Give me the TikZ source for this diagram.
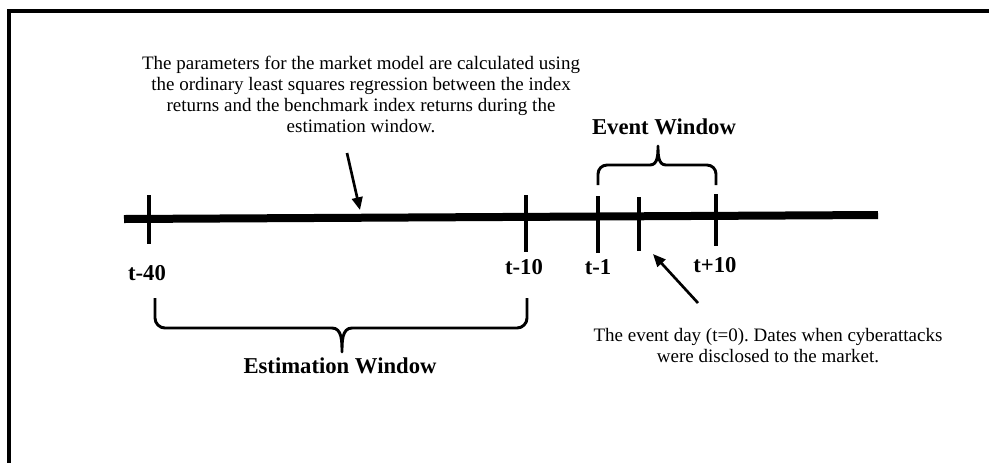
\documentclass[tikz,border=0pt]{standalone}
\usepackage{fontspec}
\setmainfont{Liberation Serif}
\usetikzlibrary{arrows.meta}
\frenchspacing
\begin{document}
\begin{tikzpicture}[x=0.75pt,y=-0.75pt,
  frame/.style={line width=3pt},
  axis/.style={line width=6pt},
  tickline/.style={line width=3pt},
  brace/.style={line width=2.2pt, line join=round},
  pointer/.style={line width=2pt,-{Triangle[length=9.5pt,width=8pt]}},
  note/.style={font=\fontsize{14.25}{15.75}\selectfont, align=center, inner sep=0pt, anchor=north},
  daylabel/.style={font=\fontsize{17}{20}\selectfont\bfseries, inner sep=0pt, anchor=base}]
\useasboundingbox (0,0) rectangle (989,462);

% open frame: top and left edges
\draw[frame] (992,11) -- (9,11) -- (9,465);

% time axis
\coordinate (tlL) at (124,219);
\coordinate (tlR) at (878,215);
\draw[axis] (tlL) -- (tlR);

% tick marks
\coordinate (k40a) at (149,195);  \coordinate (k40b) at (149,244);
\coordinate (k10a) at (526,195);  \coordinate (k10b) at (526,252);
\coordinate (k1a)  at (598,196);  \coordinate (k1b)  at (598,253);
\coordinate (k0a)  at (639,197);  \coordinate (k0b)  at (639,251);
\coordinate (kp10a) at (716,194); \coordinate (kp10b) at (716,246);
\draw[tickline] (k40a) -- (k40b);
\draw[tickline] (k10a) -- (k10b);
\draw[tickline] (k1a) -- (k1b);
\draw[tickline] (k0a) -- (k0b);
\draw[tickline] (kp10a) -- (kp10b);

% tick labels
\node[daylabel] (l40) at (147,280) {t-40};
\node[daylabel] (l10) at (524,274) {t-10};
\node[daylabel] (l1) at (598,274) {t-1};
\node[daylabel] (lp10) at (715,272) {t+10};

% window captions
\node[daylabel] (ew) at (664,134) {Event Window};
\node[daylabel] (sw) at (340,373) {Estimation Window};

% event window brace (opening downwards)
\draw[brace] (598,185) -- (598,174) to[out=90,in=180] (607,165) -- (650,165)
  to[out=0,in=-90] (658,146) to[out=-90,in=180] (666,165) -- (707,165)
  to[out=0,in=90] (716,174) -- (716,185);

% estimation window brace (opening upwards)
\draw[brace] (155,298) -- (155,318) to[out=-90,in=180] (165,328) -- (332,328)
  to[out=0,in=90] (342,352) to[out=90,in=180] (352,328) -- (517,328)
  to[out=0,in=-90] (527,318) -- (527,298);

% explanatory notes
\node[note] (n1) at (361,56) {The parameters for the market model are calculated using\\
  the ordinary least squares regression between the index\\
  returns and the benchmark index returns during the\\
  estimation window.};
\node[note] (n2) at (768,328) {The event day (t=0). Dates when cyberattacks\\
  were disclosed to the market.};

% pointers from the notes to the axis
\coordinate (p1s) at (347,153); \coordinate (p1e) at (360,210);
\coordinate (p2s) at (698,303); \coordinate (p2e) at (653,254);
\draw[pointer] (p1s) -- (p1e);
\draw[pointer] (p2s) -- (p2e);
\end{tikzpicture}
\end{document}
